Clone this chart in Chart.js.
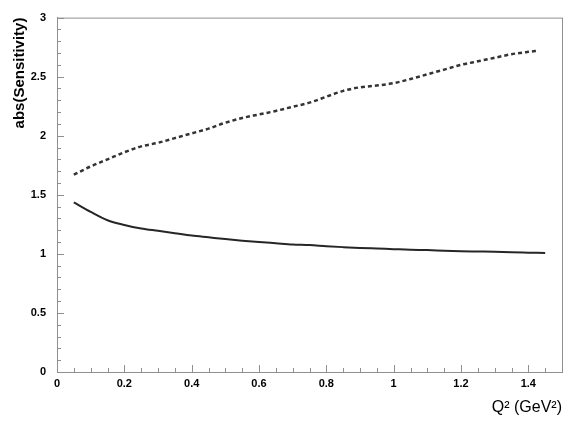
<!DOCTYPE html>
<html>
<head>
<meta charset="UTF-8">
<script src="https://cdn.jsdelivr.net/npm/chart.js"></script>
<style>
  html, body { margin: 0; padding: 0; background: #fff; }
  #wrap { width: 581px; height: 427px; }
</style>
</head>
<body>
<div id="wrap"><canvas id="c" width="581" height="427"></canvas></div>
<script>
// Q^2 values (GeV^2)
const q2 = [0.05, 0.10, 0.15, 0.20, 0.25, 0.30, 0.35, 0.40, 0.45, 0.50, 0.55, 0.60, 0.65, 0.70, 0.75,
            0.80, 0.85, 0.90, 0.95, 1.00, 1.05, 1.10, 1.15, 1.20, 1.25, 1.30, 1.35, 1.40, 1.45];
// solid curve
const solidVals = [1.435, 1.355, 1.285, 1.245, 1.215, 1.195, 1.175, 1.155, 1.14, 1.125, 1.112, 1.10, 1.09, 1.08, 1.075,
                   1.065, 1.057, 1.05, 1.045, 1.04, 1.035, 1.032, 1.027, 1.023, 1.02, 1.017, 1.013, 1.01, 1.007];
// dashed curve (ends a bit earlier)
const dashedQ2 = [0.05, 0.10, 0.15, 0.20, 0.25, 0.30, 0.35, 0.40, 0.45, 0.50, 0.55, 0.60, 0.65, 0.70, 0.75,
                  0.80, 0.85, 0.90, 0.95, 1.00, 1.05, 1.10, 1.15, 1.20, 1.25, 1.30, 1.35, 1.40, 1.43];
const dashedVals = [1.67, 1.74, 1.80, 1.86, 1.91, 1.94, 1.98, 2.02, 2.06, 2.11, 2.15, 2.18, 2.21, 2.245, 2.28,
                    2.33, 2.38, 2.41, 2.425, 2.445, 2.48, 2.52, 2.56, 2.60, 2.63, 2.66, 2.69, 2.71, 2.72];

const xTicks = [0, 0.2, 0.4, 0.6, 0.8, 1, 1.2, 1.4];
const yTicks = [0, 0.5, 1, 1.5, 2, 2.5, 3];
const xMinorStep = 0.05;
const yMinorStep = 0.1;

const axisGray = '#8f8f8f';
const fontFam = '"Liberation Sans", Arial, sans-serif';

// frame box + inward ticks
const frameTicks = {
  id: 'frameTicks',
  afterDraw(chart) {
    const { ctx, chartArea: a, scales } = chart;
    const xs = scales.x, ys = scales.y;
    ctx.save();
    ctx.strokeStyle = axisGray;
    ctx.lineWidth = 1;
    ctx.strokeRect(a.left + 0.5, a.top + 0.5, a.right - a.left, a.bottom - a.top);
    ctx.beginPath();
    for (let i = 0; i * xMinorStep <= xs.max + 1e-9; i++) {
      const v = i * xMinorStep;
      const px = Math.round(xs.getPixelForValue(v)) + 0.5;
      const major = xTicks.some(t => Math.abs(t - v) < 1e-6);
      ctx.moveTo(px, a.bottom);
      ctx.lineTo(px, a.bottom - (major ? 7 : 4));
    }
    for (let i = 0; i * yMinorStep <= ys.max + 1e-9; i++) {
      const v = i * yMinorStep;
      const py = Math.round(ys.getPixelForValue(v)) + 0.5;
      const major = yTicks.some(t => Math.abs(t - v) < 1e-6);
      ctx.moveTo(a.left, py);
      ctx.lineTo(a.left + (major ? 7 : 4), py);
    }
    ctx.stroke();
    ctx.restore();
  }
};

new Chart(document.getElementById('c'), {
  type: 'line',
  data: {
    datasets: [
      {
        data: q2.map((x, i) => ({ x, y: solidVals[i] })),
        borderColor: '#262626',
        borderWidth: 2,
        pointRadius: 0,
        fill: false,
        cubicInterpolationMode: 'monotone'
      },
      {
        data: dashedQ2.map((x, i) => ({ x, y: dashedVals[i] })),
        borderColor: '#333333',
        borderWidth: 2.5,
        borderDash: [4, 3],
        pointRadius: 0,
        fill: false,
        cubicInterpolationMode: 'monotone'
      }
    ]
  },
  options: {
    responsive: false,
    animation: false,
    layout: { padding: { left: 0, top: 15, right: 19, bottom: 0 } },
    plugins: { legend: { display: false }, tooltip: { enabled: false } },
    scales: {
      x: {
        type: 'linear',
        min: 0,
        max: 1.5,
        afterBuildTicks: s => { s.ticks = xTicks.map(v => ({ value: v })); },
        afterFit: s => { s.height = 55; },
        grid: { display: false, drawTicks: false },
        border: { display: true, color: axisGray, width: 1 },
        ticks: {
          color: '#000',
          padding: 5,
          maxRotation: 0,
          font: { family: fontFam, size: 11, weight: 'bold' },
          callback: v => String(+v.toFixed(2))
        },
        title: {
          display: true,
          text: 'Q² (GeV²)',
          align: 'end',
          color: '#000',
          padding: { top: 0, bottom: 10 },
          font: { family: fontFam, size: 16 }
        }
      },
      y: {
        type: 'linear',
        min: 0,
        max: 3,
        afterBuildTicks: s => { s.ticks = yTicks.map(v => ({ value: v })); },
        afterFit: s => { s.width = 57; },
        grid: { display: false, drawTicks: false },
        border: { display: true, color: axisGray, width: 1 },
        ticks: {
          color: '#000',
          padding: 11,
          font: { family: fontFam, size: 11, weight: 'bold' },
          callback: v => String(+v.toFixed(2))
        },
        title: {
          display: true,
          text: 'abs(Sensitivity)',
          align: 'end',
          color: '#000',
          padding: { top: 11, bottom: 0 },
          font: { family: fontFam, size: 15, weight: 'bold' }
        }
      }
    }
  },
  plugins: [frameTicks]
});
</script>
</body>
</html>
